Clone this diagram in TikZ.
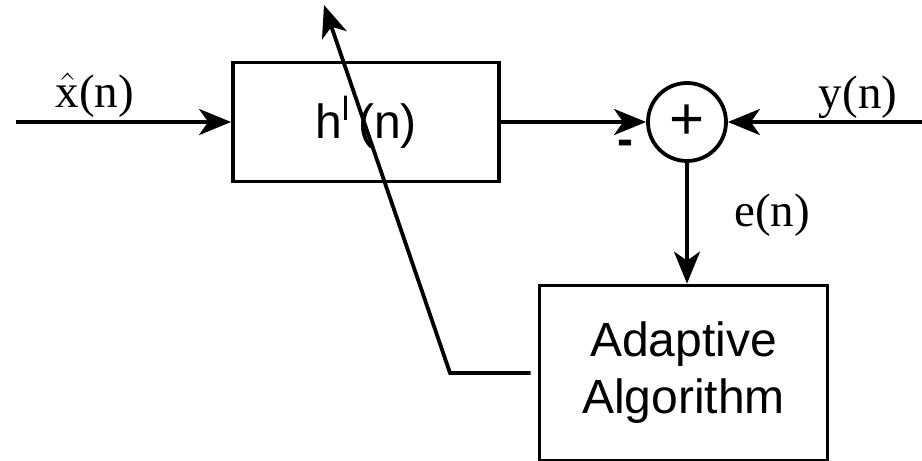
\documentclass[tikz,border=0pt]{standalone}
\usepackage{fontspec}
\setmainfont{Liberation Serif}
\setsansfont{Liberation Sans}
\usetikzlibrary{arrows, arrows.meta}

\begin{document}
\begin{tikzpicture}[x=5pt, y=5pt, line width=1.9pt,
		>={Stealth[length=16pt, width=13pt, inset=4.5pt]},
		blok/.style={draw, rectangle, inner sep=0pt, font=\sffamily\fontsize{24}{28.5}\selectfont, align=center},
		lab/.style={font=\fontsize{23.5}{27}\selectfont}]
			
			\useasboundingbox (0,0) rectangle (92.2,46.1);
			
			\node[blok, minimum width=133pt, minimum height=59.5pt] (filt) at (36.6,33.9) {h$^{\mathsf{l}}$\,(n)};
			\node[draw, circle, inner sep=0pt, minimum size=39pt, font=\sffamily\fontsize{30}{30}\selectfont] (sum) at (68.7,33.9) {+};
			\node[blok, minimum width=144pt, minimum height=87.5pt] (alg) at (68.35,8.8) {Adaptive\\Algorithm};
			\coordinate (xin) at (1.6,33.9);
			\coordinate (yin) at (92.2,33.9);
			\coordinate (bend) at (45.0,8.8);
			\coordinate (tip) at (32.4,45.6);
			
			\node[lab] (xlab) at (9.5,36.6) {$\hat{\mathrm{x}}$(n)};
			\node[lab] (ylab) at (85.8,36.4) {y(n)};
			\node[lab] (elab) at (77.2,24.6) {e(n)};
			\node[font=\sffamily\bfseries\fontsize{24}{28}\selectfont] (minus) at (62.5,31.3) {-};
			
			\draw[->] (xin) -- (filt.west);
			\draw[->] (filt.east) -- (sum.west);
			\draw[->] (yin) -- (sum.east);
			\draw[->] (sum.south) -- (sum.south |- alg.north);
			\draw[->, shorten <=3.5pt] (alg.west) -- (bend) -- (tip);
		\end{tikzpicture}
\end{document}
